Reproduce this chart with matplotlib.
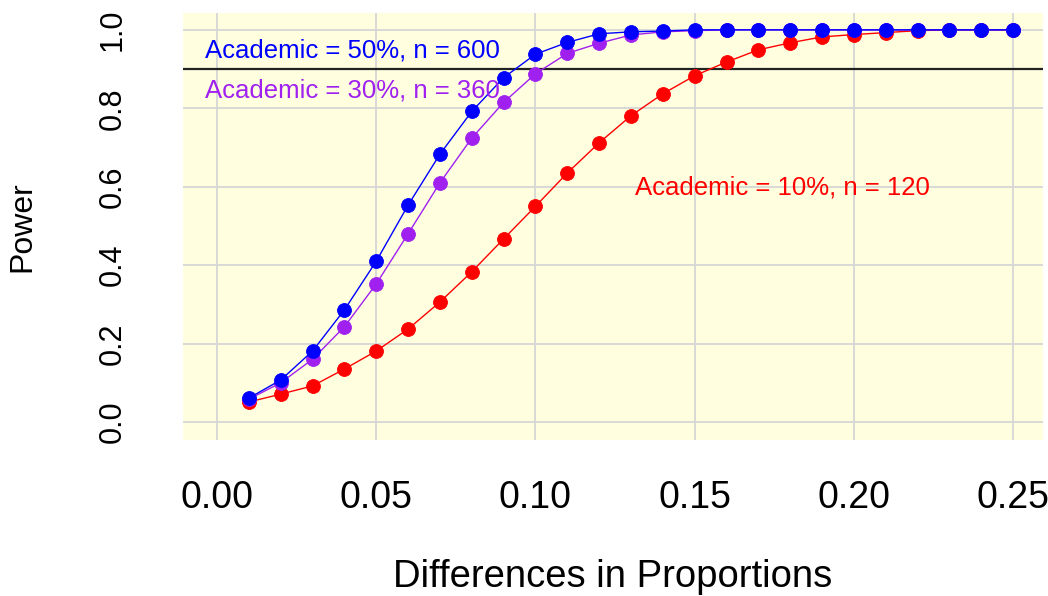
import matplotlib
matplotlib.use("Agg")
import matplotlib.pyplot as plt

# ---- data ----
diffs = [0.01, 0.02, 0.03, 0.04, 0.05, 0.06, 0.07, 0.08, 0.09, 0.10,
         0.11, 0.12, 0.13, 0.14, 0.15, 0.16, 0.17, 0.18, 0.19, 0.20,
         0.21, 0.22, 0.23, 0.24, 0.25]
power_50 = [0.061, 0.107, 0.181, 0.286, 0.410, 0.553, 0.683, 0.792, 0.878, 0.938,
            0.968, 0.990, 0.995, 0.997, 1.000, 1.000, 1.000, 1.000, 1.000, 1.000,
            1.000, 1.000, 1.000, 1.000, 1.000]
power_30 = [0.058, 0.100, 0.160, 0.243, 0.352, 0.480, 0.610, 0.724, 0.815, 0.888,
            0.940, 0.966, 0.987, 0.995, 0.998, 1.000, 1.000, 1.000, 1.000, 1.000,
            1.000, 1.000, 1.000, 1.000, 1.000]
power_10 = [0.051, 0.071, 0.092, 0.135, 0.181, 0.237, 0.306, 0.383, 0.467, 0.550,
            0.635, 0.712, 0.781, 0.837, 0.883, 0.918, 0.949, 0.967, 0.982, 0.988,
            0.993, 0.998, 1.000, 1.000, 1.000]
target_power = 0.9
xticks = [0.00, 0.05, 0.10, 0.15, 0.20, 0.25]
xtick_labels = ["0.00", "0.05", "0.10", "0.15", "0.20", "0.25"]
yticks = [0.0, 0.2, 0.4, 0.6, 0.8, 1.0]
ytick_labels = ["0.0", "0.2", "0.4", "0.6", "0.8", "1.0"]
labels = ["Academic = 50%, n = 600", "Academic = 30%, n = 360", "Academic = 10%, n = 120"]
label_pos = [(0.0424, 0.929), (0.0424, 0.827), (0.1776, 0.579)]
colors = ["#0000FF", "#A020F0", "#FF0000"]

plt.rcParams['font.family'] = ['Liberation Sans', 'DejaVu Sans']

W, H = 1048, 596
fig = plt.figure(figsize=(W / 100, H / 100), dpi=100)
ax = fig.add_axes([183 / W, 1 - 440 / H, 860 / W, 427 / H])
ax.set_facecolor("#FFFFE0")
ax.set_xlim(-0.0107, 0.2594)
ax.set_ylim(-0.046, 1.043)
for s in ax.spines.values():
    s.set_visible(False)

ax.set_xticks(xticks)
ax.set_xticklabels(xtick_labels, fontsize=27)
ax.set_yticks(yticks)
ax.set_yticklabels(ytick_labels, fontsize=22, rotation=90, va="center")
ax.tick_params(axis="x", length=0, pad=29)
ax.tick_params(axis="y", length=0, pad=40)
ax.grid(True, color="#D6D6D6", linewidth=1.3)
ax.set_axisbelow(True)

ax.axhline(target_power, color="#222222", linewidth=1.6, zorder=2)

series = [power_10, power_30, power_50]
cols = [colors[2], colors[1], colors[0]]
for i, (ys, c) in enumerate(zip(series, cols)):
    ax.plot(diffs, ys, color=c, linewidth=1.0, marker="o", markersize=10,
            markeredgewidth=0.6, markeredgecolor=c, zorder=3 + i)

for txt, (tx, ty), c in zip(labels, label_pos, colors):
    ax.text(tx, ty, txt, color=c, fontsize=18.5, ha="center", va="baseline", zorder=6)

ax.set_xlabel("Differences in Proportions", fontsize=27.5)
ax.xaxis.label.set_va("baseline")
ax.xaxis.set_label_coords(0.5, (440 - 587) / 427)
ax.set_ylabel("Power", fontsize=23)
ax.yaxis.label.set_va("center")
ax.yaxis.label.set_ha("center")
ax.yaxis.set_label_coords((22 - 183) / 860, 0.5)

fig.savefig("out.png", dpi=100, facecolor="white")
